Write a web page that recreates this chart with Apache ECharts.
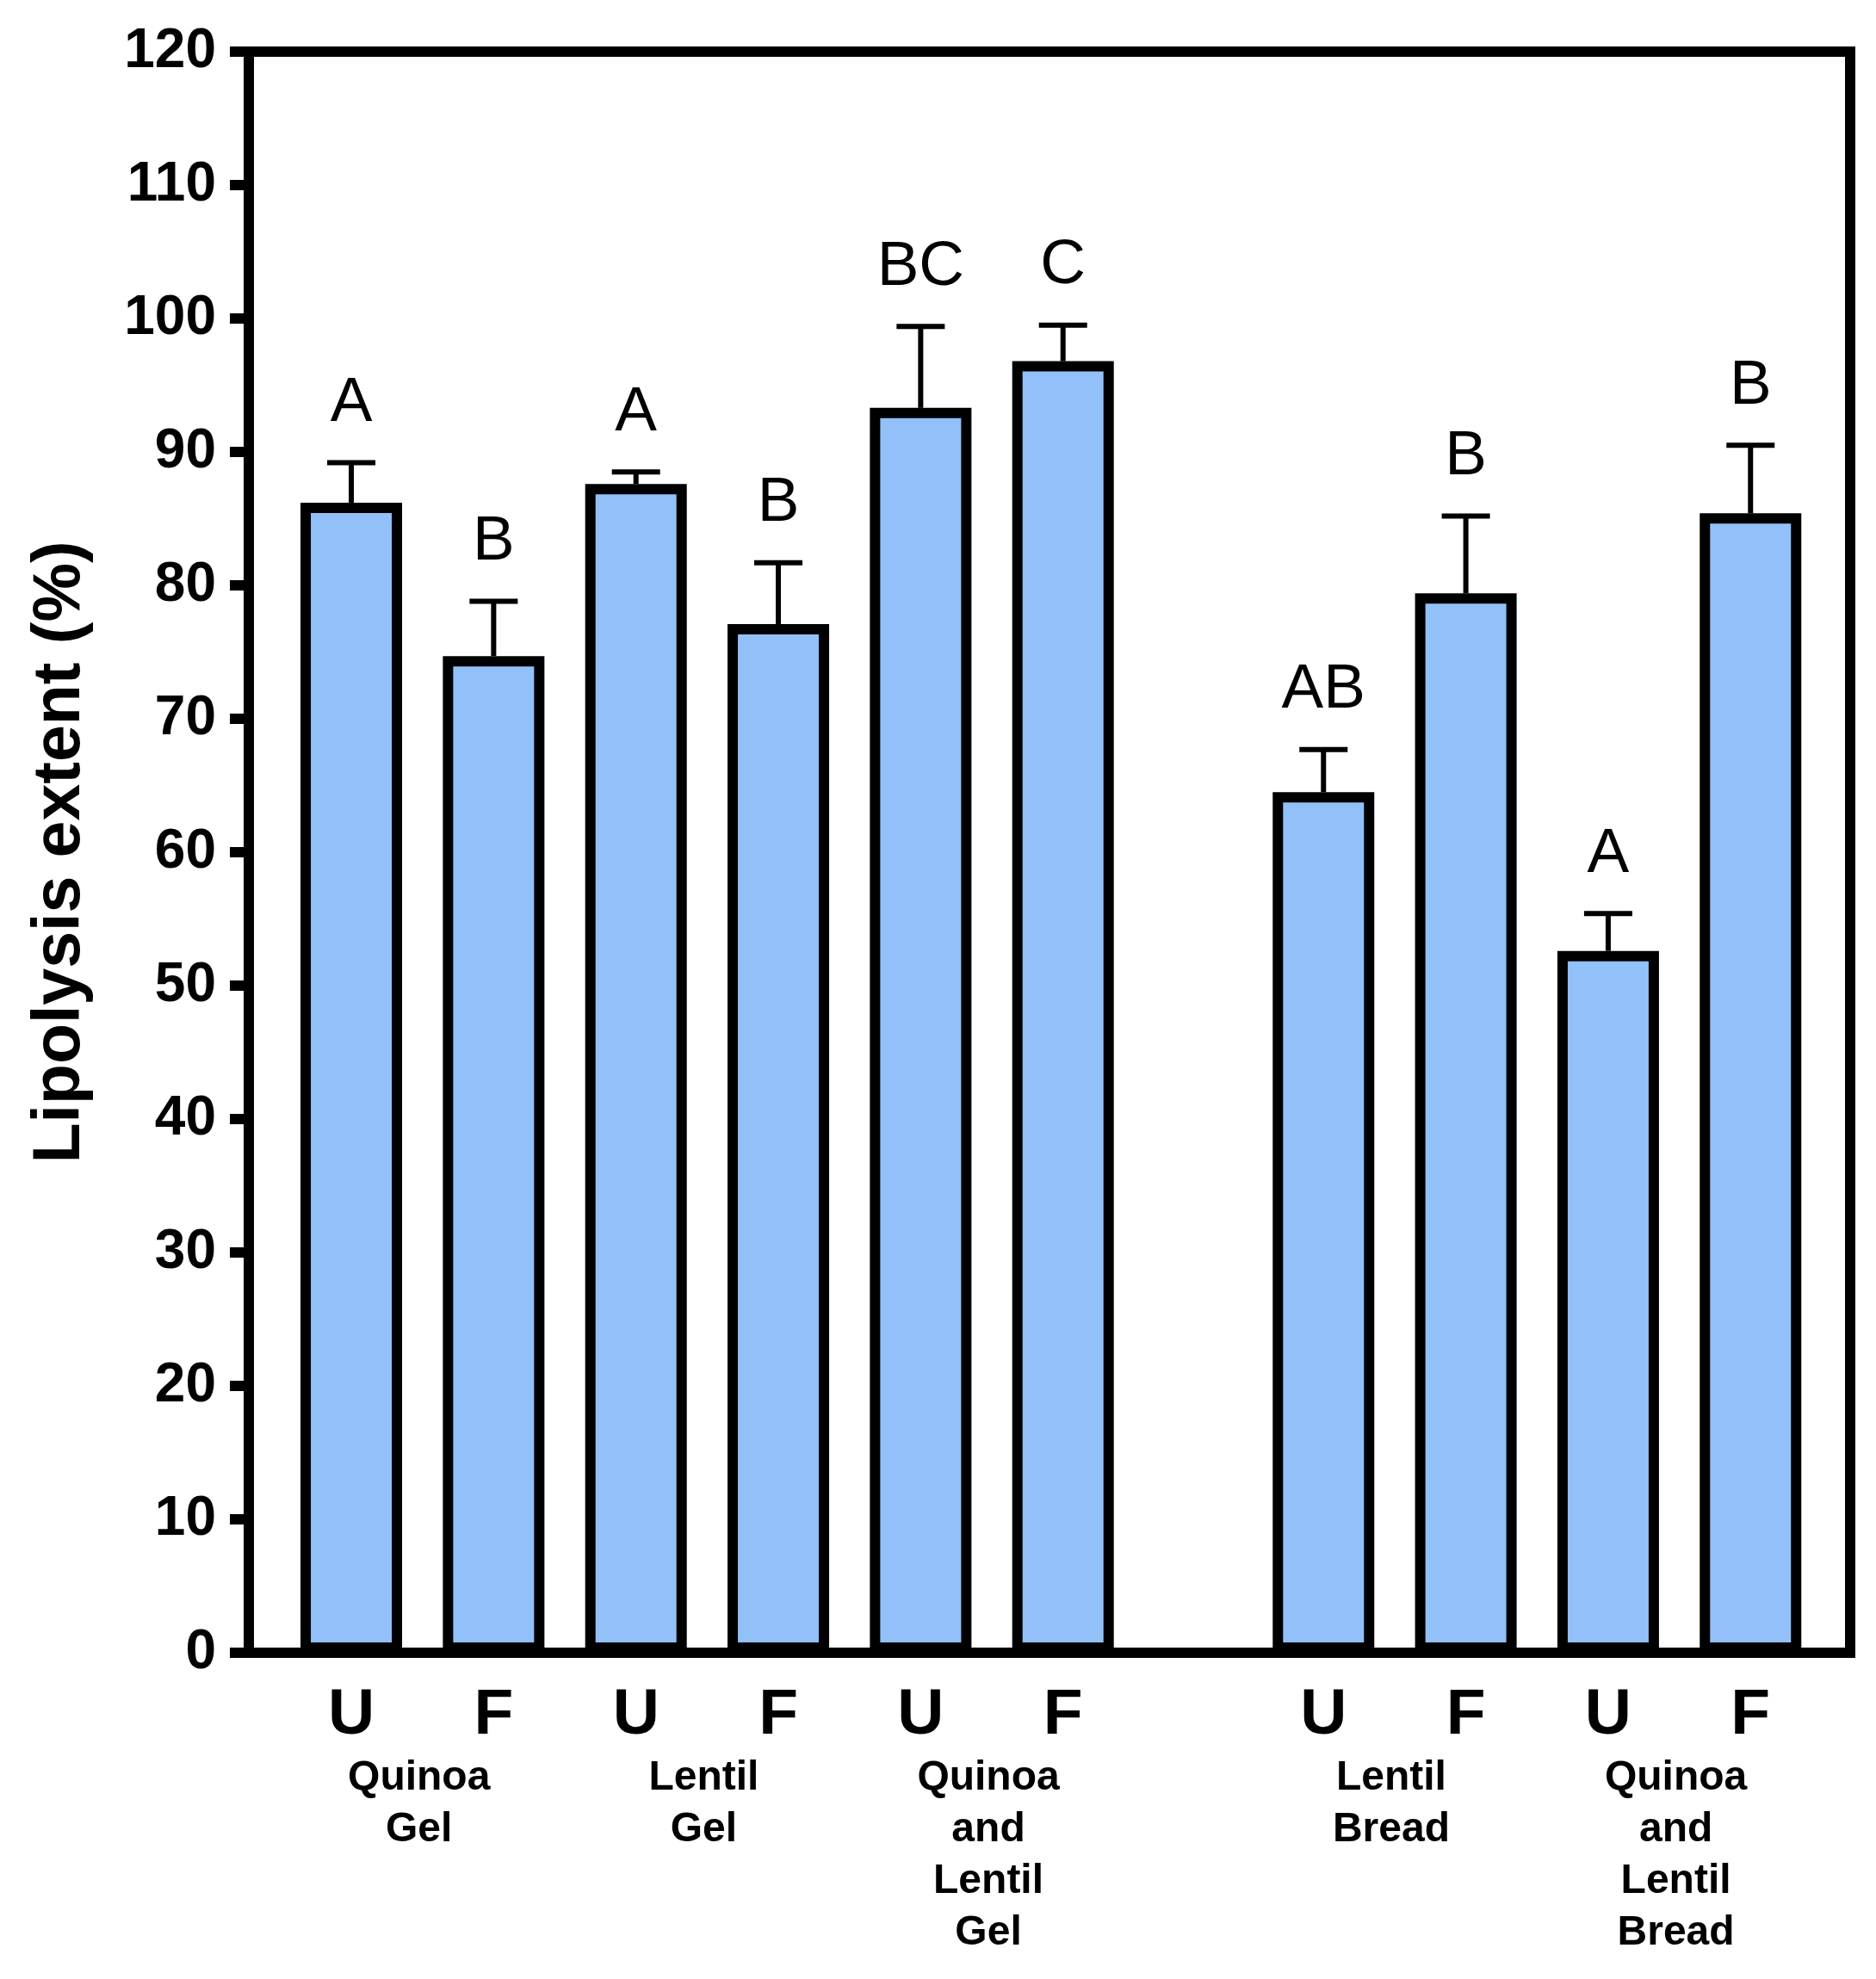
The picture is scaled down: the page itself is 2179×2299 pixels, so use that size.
<!DOCTYPE html>
<html>
<head>
<meta charset="utf-8">
<style>
  html, body { margin: 0; padding: 0; background: #fff; }
  #chart { width: 2179px; height: 2299px; }
</style>
<script src="https://cdn.jsdelivr.net/npm/echarts@6/dist/echarts.min.js"></script>
</head>
<body>
<div id="chart"></div>
<script>
// data
const groupNames = [
  'Quinoa\nGel',
  'Lentil\nGel',
  'Quinoa\nand\nLentil\nGel',
  'Lentil\nBread',
  'Quinoa\nand\nLentil\nBread',
];
const treatments = ['U', 'F', 'U', 'F', 'U', 'F', 'U', 'F', 'U', 'F'];
const lipolysis = [86.2, 74.7, 87.6, 77.1, 93.3, 96.8, 64.5, 79.4, 52.6, 85.4];
const errorUp = [3.0, 4.1, 0.9, 4.6, 6.1, 2.7, 3.2, 5.8, 2.8, 5.1];
const letters = ['A', 'B', 'A', 'B', 'BC', 'C', 'AB', 'B', 'A', 'B'];
const yTicks = [0, 10, 20, 30, 40, 50, 60, 70, 80, 90, 100, 110, 120];

// layout: gels and breads are separated by an extra gap
const GEL_COUNT = 6;
const BREAD_GAP = 0.83;
const FONT = '"Liberation Sans", Arial, Helvetica, sans-serif';
const BAR_FILL = '#92C0F9';

const slot = (i) => (i < GEL_COUNT ? i : i + BREAD_GAP);

const barData = lipolysis.map((v, i) => [slot(i), v]);
const errData = lipolysis.map((v, i) => [slot(i), v, errorUp[i]]);
const groupData = groupNames.map((_, g) => [(slot(2 * g) + slot(2 * g + 1)) / 2, 0]);

const chart = echarts.init(document.getElementById('chart'));

const option = {
  animation: false,
  backgroundColor: '#fff',
  grid: {
    left: 289,
    right: 30,
    top: 60,
    bottom: 379,
    show: true,
    borderColor: '#000',
    borderWidth: 12,
    containLabel: false,
  },
  xAxis: {
    type: 'value',
    min: -0.72,
    max: 10.53,
    show: false,
  },
  yAxis: {
    type: 'value',
    min: yTicks[0],
    max: yTicks[yTicks.length - 1],
    interval: 10,
    name: 'Lipolysis extent (%)',
    nameLocation: 'middle',
    nameGap: 180,
    nameTextStyle: {
      fontFamily: FONT,
      fontSize: 77,
      fontWeight: 'bold',
      color: '#000',
    },
    axisLine: { show: true, onZero: false, lineStyle: { color: '#000', width: 12 } },
    axisTick: { show: true, length: 22, lineStyle: { color: '#000', width: 12 } },
    axisLabel: {
      margin: 38,
      fontFamily: FONT,
      fontSize: 64,
      fontWeight: 'bold',
      color: '#000',
    },
    splitLine: { show: false },
  },
  series: [
    {
      type: 'bar',
      data: barData,
      barWidth: 118,
      itemStyle: {
        color: BAR_FILL,
        borderColor: '#000',
        borderWidth: 12,
      },
      label: {
        show: true,
        position: 'bottom',
        distance: 36,
        formatter: (p) => treatments[p.dataIndex],
        fontFamily: FONT,
        fontSize: 75,
        fontWeight: 'bold',
        color: '#000',
      },
      z: 2,
    },
    {
      // error bars + significance letters
      type: 'custom',
      data: errData,
      encode: { x: 0, y: 1 },
      z: 3,
      renderItem: (params, api) => {
        const x = api.value(0);
        const y = api.value(1);
        const e = api.value(2);
        const base = api.coord([x, y]);
        const top = api.coord([x, y + e]);
        const capHalf = 28;
        return {
          type: 'group',
          children: [
            {
              type: 'line',
              shape: { x1: base[0], y1: base[1], x2: top[0], y2: top[1] },
              style: { stroke: '#000', lineWidth: 6 },
            },
            {
              type: 'line',
              shape: { x1: top[0] - capHalf, y1: top[1], x2: top[0] + capHalf, y2: top[1] },
              style: { stroke: '#000', lineWidth: 6 },
            },
            {
              type: 'text',
              x: top[0],
              y: top[1] - 32,
              style: {
                text: letters[params.dataIndex],
                fontFamily: FONT,
                fontSize: 73,
                fill: '#000',
                align: 'center',
                verticalAlign: 'bottom',
              },
            },
          ],
        };
      },
    },
    {
      // group names under each U/F pair
      type: 'custom',
      data: groupData,
      encode: { x: 0, y: 1 },
      z: 3,
      renderItem: (params, api) => {
        const p = api.coord([api.value(0), api.value(1)]);
        return {
          type: 'text',
          x: p[0] - 4,
          y: p[1] + 116,
          style: {
            text: groupNames[params.dataIndex],
            fontFamily: FONT,
            fontSize: 48,
            fontWeight: 'bold',
            lineHeight: 60,
            fill: '#000',
            align: 'center',
            verticalAlign: 'top',
          },
        };
      },
    },
  ],
};

chart.setOption(option);
</script>
</body>
</html>
